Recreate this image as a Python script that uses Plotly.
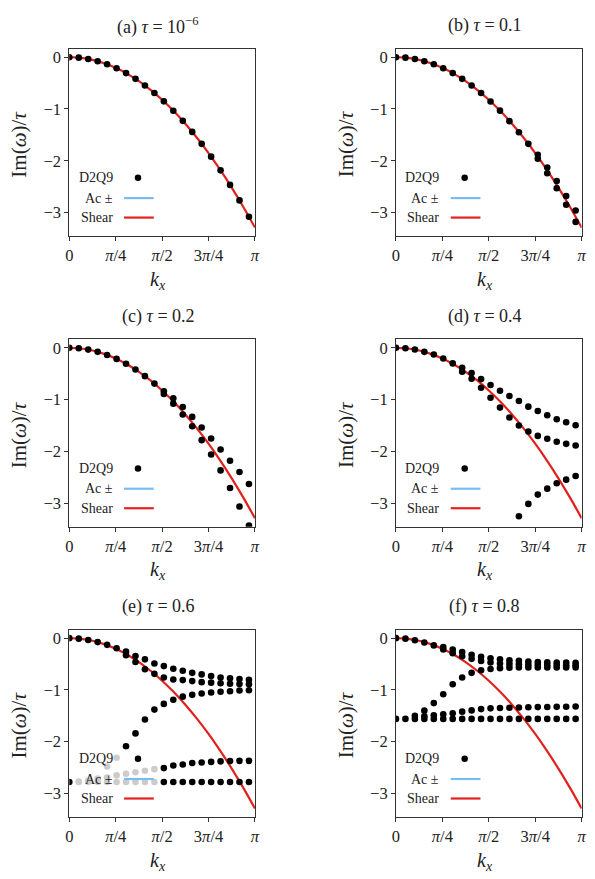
import plotly.graph_objects as go

# ---------------- data ----------------
k = [0.00, 0.16, 0.32, 0.48, 0.64, 0.80, 0.96, 1.12, 1.28, 1.44,
     1.60, 1.76, 1.92, 2.08, 2.24, 2.40, 2.56, 2.72, 2.88, 3.04]

shear_k = [0.0, 0.19635, 0.3927, 0.58905, 0.7854, 0.98175, 1.1781, 1.37445, 1.5708,
           1.76715, 1.9635, 2.15985, 2.3562, 2.55254, 2.74889, 2.94524, 3.14159]
shear_y = [0.0, -0.0129, -0.0514, -0.1157, -0.2056, -0.3213, -0.4626, -0.6297, -0.8225,
           -1.0409, -1.2851, -1.5550, -1.8506, -2.1718, -2.5188, -2.8915, -3.2899]

N = None
titles = ["(a) <i>τ</i> = 10<sup>−6</sup>", "(b) <i>τ</i> = 0.1", "(c) <i>τ</i> = 0.2",
          "(d) <i>τ</i> = 0.4", "(e) <i>τ</i> = 0.6", "(f) <i>τ</i> = 0.8"]

a_modes = [
    [0, -0.0085, -0.034, -0.077, -0.137, -0.213, -0.307, -0.418, -0.546, -0.691,
     -0.853, -1.033, -1.229, -1.442, -1.673, -1.92, -2.185, -2.466, -2.765, -3.08],
]
b_modes = [
    [0, -0.0085, -0.034, -0.077, -0.137, -0.213, -0.307, -0.418, -0.546, -0.691,
     -0.855, -1.032, -1.235, -1.449, -1.673, -1.885, -2.13, -2.39, -2.68, -2.96],
    [N, N, N, N, N, N, N, N, N, N, N, N, N, N, N, -1.96, -2.24, -2.53, -2.85, -3.18],
]
c_modes = [
    [0, -0.0085, -0.034, -0.077, -0.137, -0.213, -0.307, -0.418, -0.546, -0.69,
     -0.84, -0.974, -1.141, -1.333, -1.538, -1.75, -1.962, -2.18, -2.397, -2.628],
    [N, N, N, N, N, N, N, N, N, N,
     -0.89, -1.077, -1.288, -1.513, -1.782, -2.058, -2.366, -2.705, -3.064, -3.43],
]
d_modes = [
    [0, -0.008, -0.032, -0.077, -0.128, -0.205, -0.30, -0.385, -0.487, -0.603,
     -0.718, -0.827, -0.929, -1.026, -1.135, -1.218, -1.30, -1.378, -1.436, -1.494],
    [N, N, N, N, N, N, N, -0.46, -0.596, -0.769,
     -0.962, -1.154, -1.346, -1.50, -1.615, -1.70, -1.756, -1.814, -1.853, -1.885],
    [N, N, N, N, N, N, N, N, N, N, N, N, N,
     -3.25, -3.013, -2.833, -2.718, -2.615, -2.545, -2.474],
]
e_modes = [
    [0, -0.01, -0.035, -0.077, -0.13, -0.195, -0.26, -0.345, -0.41, -0.49,
     -0.54, -0.59, -0.63, -0.67, -0.70, -0.73, -0.76, -0.775, -0.79, -0.805],
    [N, N, N, N, N, N, -0.33, -0.46, -0.60, -0.69,
     -0.76, -0.80, -0.81, -0.83, -0.85, -0.86, -0.87, -0.88, -0.885, -0.89],
    [N, N, N, N, -2.48, -2.31, -2.09, -1.84, -1.57, -1.38,
     -1.27, -1.19, -1.13, -1.095, -1.07, -1.05, -1.035, -1.025, -1.01, -1.005],
    [N, -2.77, -2.75, -2.71, -2.69, -2.65, -2.62, -2.59, -2.56, -2.53,
     -2.51, -2.46, -2.44, -2.41, -2.40, -2.39, -2.38, -2.375, -2.37, -2.37],
    [-2.777, -2.777, -2.777, -2.777, -2.777, -2.777, -2.777, -2.777, -2.777, -2.777,
     -2.777, -2.777, -2.777, -2.777, -2.777, -2.777, -2.777, -2.777, -2.777, -2.777],
]
f_modes = [
    [0, -0.01, -0.04, -0.085, -0.14, -0.17, -0.22, -0.27, -0.32, -0.36,
     -0.39, -0.41, -0.43, -0.44, -0.45, -0.46, -0.465, -0.47, -0.47, -0.475],
    [N, N, N, N, N, -0.22, -0.29, -0.35, -0.40, -0.44,
     -0.47, -0.49, -0.50, -0.505, -0.51, -0.515, -0.52, -0.52, -0.525, -0.525],
    [N, N, N, -1.40, -1.255, -1.085, -0.89, -0.76, -0.67, -0.62,
     -0.595, -0.58, -0.57, -0.565, -0.565, -0.565, -0.565, -0.565, -0.565, -0.565],
    [N, N, -1.50, -1.51, -1.49, -1.47, -1.45, -1.42, -1.395, -1.37,
     -1.356, -1.35, -1.344, -1.34, -1.335, -1.332, -1.33, -1.327, -1.324, -1.32],
    [-1.56, -1.56, -1.56, -1.56, -1.56, -1.56, -1.56, -1.56, -1.56, -1.56,
     -1.56, -1.56, -1.56, -1.56, -1.56, -1.56, -1.56, -1.56, -1.56, -1.56],
]
panels = [a_modes, b_modes, c_modes, d_modes, e_modes, f_modes]

x_tickvals = [0, 0.785398, 1.570796, 2.356194, 3.141593]
x_ticktext = ["0", "<i>π</i>/4", "<i>π</i>/2", "3<i>π</i>/4", "<i>π</i>"]
y_tickvals = [0, -1, -2, -3]
y_ticktext = ["0", "−1", "−2", "−3"]
legend_labels = ["D2Q9", "Ac ±", "Shear"]

# ---------------- layout geometry ----------------
W, H = 595, 879
col_left = [66.3, 398.0]
ax_w = 188.5
row_top = [47.7, 338.7, 629.3]
ax_h = 187.7
FONT = "Liberation Serif"
RED = "#e2201c"
BLUE = "#78bdf2"

fig = go.Figure()
shapes = []
annotations = []

for p, modes in enumerate(panels):
    r, c = divmod(p, 2)
    n = p + 1
    xa = "x" if n == 1 else f"x{n}"
    ya = "y" if n == 1 else f"y{n}"
    x0 = col_left[c] / W
    x1 = (col_left[c] + ax_w) / W
    y1 = 1 - row_top[r] / H
    y0 = 1 - (row_top[r] + ax_h) / H
    axkey = "xaxis" if n == 1 else f"xaxis{n}"
    aykey = "yaxis" if n == 1 else f"yaxis{n}"
    common = dict(showgrid=False, zeroline=False, showline=True, mirror=True,
                  linecolor="#333", linewidth=1, ticks="outside", ticklen=4,
                  tickwidth=1, tickcolor="#333",
                  tickfont=dict(family=FONT, size=16.5, color="#222"))
    fig.update_layout({
        axkey: dict(domain=[x0, x1], range=[0, 3.141593], anchor=ya,
                    tickvals=x_tickvals, ticktext=x_ticktext, **common),
        aykey: dict(domain=[y0, y1], range=[-3.455, 0.165], anchor=xa,
                    tickvals=y_tickvals, ticktext=y_ticktext, **common),
    })

    # shear line
    fig.add_trace(go.Scatter(x=shear_k, y=shear_y, mode="lines", xaxis=xa, yaxis=ya,
                             line=dict(color=RED, width=2.2, shape="spline"),
                             showlegend=False, hoverinfo="skip"))
    # D2Q9 eigenvalues
    for br in modes:
        xs = [kk for kk, v in zip(k, br) if v is not None]
        ys = [v for v in br if v is not None]
        fig.add_trace(go.Scatter(x=xs, y=ys, mode="markers", xaxis=xa, yaxis=ya,
                                 marker=dict(color="black", size=6.6, line=dict(width=0)),
                                 showlegend=False, cliponaxis=True))

    # ---- pseudo legend (matplotlib style, markers after labels) ----
    xd = f"{xa} domain"
    yd = f"{ya} domain"
    shapes.append(dict(type="rect", xref=xd, yref=yd, x0=0.03, x1=0.48, y0=0.035, y1=0.36,
                       fillcolor="rgba(255,255,255,0.8)", line=dict(width=0), layer="above"))
    rows_y = [0.311, 0.203, 0.099]
    for lab, yy in zip(legend_labels, rows_y):
        annotations.append(dict(text=lab, xref=xd, yref=yd, x=0.245, y=yy, xanchor="right",
                                yanchor="middle", showarrow=False,
                                font=dict(family=FONT, size=14, color="#222")))
    # marker sample
    cx, cy = 0.37, rows_y[0]
    shapes.append(dict(type="circle", xref=xd, yref=yd, x0=cx - 0.0175, x1=cx + 0.0175,
                       y0=cy - 0.0175, y1=cy + 0.0175, fillcolor="black",
                       line=dict(width=0), layer="above"))
    shapes.append(dict(type="line", xref=xd, yref=yd, x0=0.295, x1=0.455,
                       y0=rows_y[1], y1=rows_y[1], line=dict(color=BLUE, width=2.2),
                       layer="above"))
    shapes.append(dict(type="line", xref=xd, yref=yd, x0=0.295, x1=0.455,
                       y0=rows_y[2], y1=rows_y[2], line=dict(color=RED, width=2.2),
                       layer="above"))

    # title, x label, y label
    cxp = (col_left[c] + ax_w / 2 - 4) / W
    annotations.append(dict(text=titles[p], xref="paper", yref="paper", x=cxp,
                            y=1 - (row_top[r] - 23) / H, xanchor="center", yanchor="middle",
                            showarrow=False, font=dict(family=FONT, size=18, color="#222")))
    annotations.append(dict(text="<i>k<sub>x</sub></i>", xref="paper", yref="paper", x=cxp,
                            y=1 - (row_top[r] + ax_h + 44) / H, xanchor="center",
                            yanchor="middle", showarrow=False,
                            font=dict(family=FONT, size=20, color="#222")))
    annotations.append(dict(text="Im(<i>ω</i>)/<i>τ</i>", xref="paper", yref="paper",
                            x=(col_left[c] - 51.3) / W,
                            y=1 - (row_top[r] + ax_h / 2 + 1.5) / H, xanchor="center",
                            yanchor="middle", textangle=-90, showarrow=False,
                            font=dict(family=FONT, size=21, color="#222")))

fig.update_layout(width=W, height=H, margin=dict(l=0, r=0, t=0, b=0),
                  paper_bgcolor="white", plot_bgcolor="white",
                  shapes=shapes, annotations=annotations, showlegend=False)

fig.write_html("out.html")
